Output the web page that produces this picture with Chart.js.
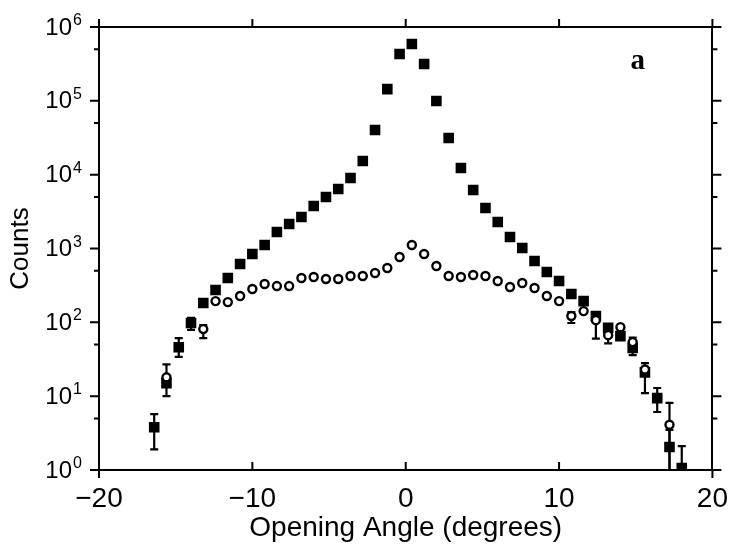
<!DOCTYPE html>
<html>
<head>
<meta charset="utf-8">
<script src="https://cdn.jsdelivr.net/npm/chart.js@4.4.1/dist/chart.umd.min.js"></script>
<style>
html, body { margin: 0; padding: 0; background: #fff; }
#wrap { width: 740px; height: 549px; }
</style>
</head>
<body>
<div id="wrap"><canvas id="chart"></canvas></div>
<script>
// opening angle bins (degrees)
const angles = [
    -16.4, -15.6, -14.8, -14.0, -13.2, -12.4, -11.6, -10.8, -10.0, -9.2, -8.4,
    -7.6, -6.8, -6.0, -5.2, -4.4, -3.6, -2.8, -2.0, -1.2, -0.4,
    0.4, 1.2, 2.0, 2.8, 3.6, 4.4, 5.2, 6.0, 6.8, 7.6, 8.4,
    9.2, 10.0, 10.8, 11.6, 12.4, 13.2, 14.0, 14.8, 15.6, 16.4, 17.2, 18.0,
];

// filled squares
const filledCounts = [
    3.8, 15, 46, 98, 183, 274, 398, 617, 842, 1115, 1672,
    2147, 2670, 3764, 4980, 6390, 9010, 15300, 40300, 144000, 430000,
    589000, 315000, 99500, 31400, 12300, 6200, 3530, 2285, 1432, 1016, 678,
    481, 363, 242, 194, 122, 84, 65, 45, 21, 9.4, 2.05, 1.06,
];

// open circles (null = hidden behind a square / absent)
const openCounts = [
    null, 18, null, null, 81, 194, 188, 227, 283, 330, 310,
    310, 398, 411, 386, 386, 424, 424, 466, 545, 767,
    1115, 842, 579, 424, 411, 438, 424, 363, 301, 341, 292,
    227, 194, 122, 142, 107, 67, 86, 54, 23, null, 4.1, null,
];

// error bars
const filledErrAngles = [-16.4, -15.6, -14.8, -14.0, 14.8, 15.6, 16.4, 17.2, 18.0];
const filledErrLow = [1.9, 10, 34, 79, 36, 11, 6.1, 1, 1];
const filledErrHigh = [5.7, 27, 61, 115, 62, 28, 12.9, 3.5, 2.1];

const openErrAngles = [-13.2, 10.8, 12.4, 13.2, 17.2];
const openErrLow = [61, 98, 60, 52, 1];
const openErrHigh = [92, 138, 125, 79, 8.1];

// axes
const xTickValues = [-20, -10, 0, 10, 20];
const xTickLabels = ['\u221220', '\u221210', '0', '10', '20'];
const decadeValues = [1, 10, 100, 1000, 10000, 100000, 1000000];
const decadeExponents = ['0', '1', '2', '3', '4', '5', '6'];
const halfDecadeValues = [5, 50, 500, 5000, 50000, 500000];

const panelLabel = { x: 15, y: 340000, text: 'a' };

const FONT = "'Liberation Sans', Arial, sans-serif";
const BOX = { left: 99, right: 24, top: 27, bottom: 79 };

function points(ys) {
    return angles.map((x, i) => ({ x, y: ys[i] })).filter((p) => p.y != null);
}

const errorBars = {
    id: 'errorBars',
    beforeDatasetsDraw(chart) {
        const { ctx, scales: { x, y } } = chart;
        ctx.save();
        ctx.strokeStyle = '#000';
        ctx.lineWidth = 2.2;
        chart.data.datasets.forEach((ds) => {
            const e = ds.errors;
            if (!e) {
                return;
            }
            e.at.forEach((a, i) => {
                const px = x.getPixelForValue(a);
                const top = y.getPixelForValue(e.high[i]);
                const bot = y.getPixelForValue(e.low[i]);
                ctx.beginPath();
                ctx.moveTo(px, top);
                ctx.lineTo(px, bot);
                ctx.moveTo(px - 4, top);
                ctx.lineTo(px + 4, top);
                ctx.moveTo(px - 4, bot);
                ctx.lineTo(px + 4, bot);
                ctx.stroke();
            });
        });
        ctx.restore();
    },
};

const frame = {
    id: 'frame',
    afterDraw(chart) {
        const { ctx, chartArea: a, scales: { x, y } } = chart;
        ctx.save();
        ctx.strokeStyle = '#000';
        ctx.lineWidth = 2;
        ctx.beginPath();
        xTickValues.forEach((v) => {
            const px = x.getPixelForValue(v);
            if (v === -20 || v === 20) {
                ctx.moveTo(px, a.bottom);
                ctx.lineTo(px, a.bottom + 8);
            } else {
                ctx.moveTo(px, a.bottom);
                ctx.lineTo(px, a.bottom - 8);
            }
            ctx.moveTo(px, a.top);
            ctx.lineTo(px, a.top - 8);
        });
        decadeValues.forEach((v) => {
            const py = y.getPixelForValue(v);
            ctx.moveTo(a.left, py);
            ctx.lineTo(a.left - 9, py);
            ctx.moveTo(a.right, py);
            ctx.lineTo(a.right + 9, py);
        });
        halfDecadeValues.forEach((v) => {
            const py = y.getPixelForValue(v);
            ctx.moveTo(a.left, py);
            ctx.lineTo(a.left - 5, py);
            ctx.moveTo(a.right, py);
            ctx.lineTo(a.right + 5, py);
        });
        ctx.stroke();

        // y tick labels: 10 with superscript exponent
        ctx.fillStyle = '#000';
        decadeValues.forEach((v, i) => {
            const py = y.getPixelForValue(v);
            ctx.font = '24px ' + FONT;
            ctx.textAlign = 'right';
            ctx.textBaseline = 'middle';
            ctx.fillText('10', a.left - 27, py + 1);
            ctx.font = '16px ' + FONT;
            ctx.textAlign = 'left';
            ctx.textBaseline = 'alphabetic';
            ctx.fillText(decadeExponents[i], a.left - 26, py - 2);
        });

        ctx.font = "bold 29px 'Liberation Serif', serif";
        ctx.textAlign = 'center';
        ctx.textBaseline = 'middle';
        ctx.fillText(panelLabel.text, x.getPixelForValue(panelLabel.x) + 2, y.getPixelForValue(panelLabel.y));
        ctx.restore();
    },
};

const border = { display: true, color: '#000', width: 2 };
const noGrid = { display: false, drawTicks: false };

new Chart(document.getElementById('chart'), {
    type: 'scatter',
    data: {
        datasets: [
            {
                label: 'open',
                data: points(openCounts),
                pointStyle: 'circle',
                pointRadius: 4,
                borderWidth: 2.4,
                borderColor: '#000',
                backgroundColor: '#fff',
                order: 0,
                errors: { at: openErrAngles, low: openErrLow, high: openErrHigh },
            },
            {
                label: 'filled',
                data: points(filledCounts),
                pointStyle: 'rect',
                pointRadius: 7.5,
                borderWidth: 0,
                backgroundColor: '#000',
                order: 1,
                errors: { at: filledErrAngles, low: filledErrLow, high: filledErrHigh },
            },
        ],
    },
    options: {
        responsive: true,
        maintainAspectRatio: false,
        animation: false,
        layout: { padding: 0 },
        plugins: {
            legend: { display: false },
            tooltip: { enabled: false },
        },
        scales: {
            x: {
                type: 'linear',
                position: 'bottom',
                min: -20,
                max: 20,
                grid: noGrid,
                border,
                afterFit(s) { s.height = BOX.bottom; },
                afterBuildTicks(s) { s.ticks = xTickValues.map((v) => ({ value: v })); },
                ticks: {
                    color: '#000',
                    font: { family: FONT, size: 28 },
                    padding: 12,
                    maxRotation: 0,
                    autoSkip: false,
                    callback: (v) => xTickLabels[xTickValues.indexOf(v)],
                },
                title: {
                    display: true,
                    text: 'Opening Angle (degrees)',
                    color: '#000',
                    font: { family: FONT, size: 28 },
                    padding: { top: 0, bottom: 4 },
                },
            },
            x2: {
                type: 'linear',
                position: 'top',
                min: -20,
                max: 20,
                grid: noGrid,
                border,
                ticks: { display: false },
                afterFit(s) { s.height = BOX.top; },
            },
            y: {
                type: 'logarithmic',
                position: 'left',
                min: 1,
                max: 1000000,
                grid: noGrid,
                border,
                ticks: { display: false },
                afterFit(s) { s.width = BOX.left; },
                title: {
                    display: true,
                    text: 'Counts',
                    color: '#000',
                    font: { family: FONT, size: 26 },
                    padding: { top: 5, bottom: 0 },
                },
            },
            y2: {
                type: 'logarithmic',
                position: 'right',
                min: 1,
                max: 1000000,
                grid: noGrid,
                border,
                ticks: { display: false },
                afterFit(s) { s.width = BOX.right; },
            },
        },
    },
    plugins: [errorBars, frame],
});
</script>
</body>
</html>
